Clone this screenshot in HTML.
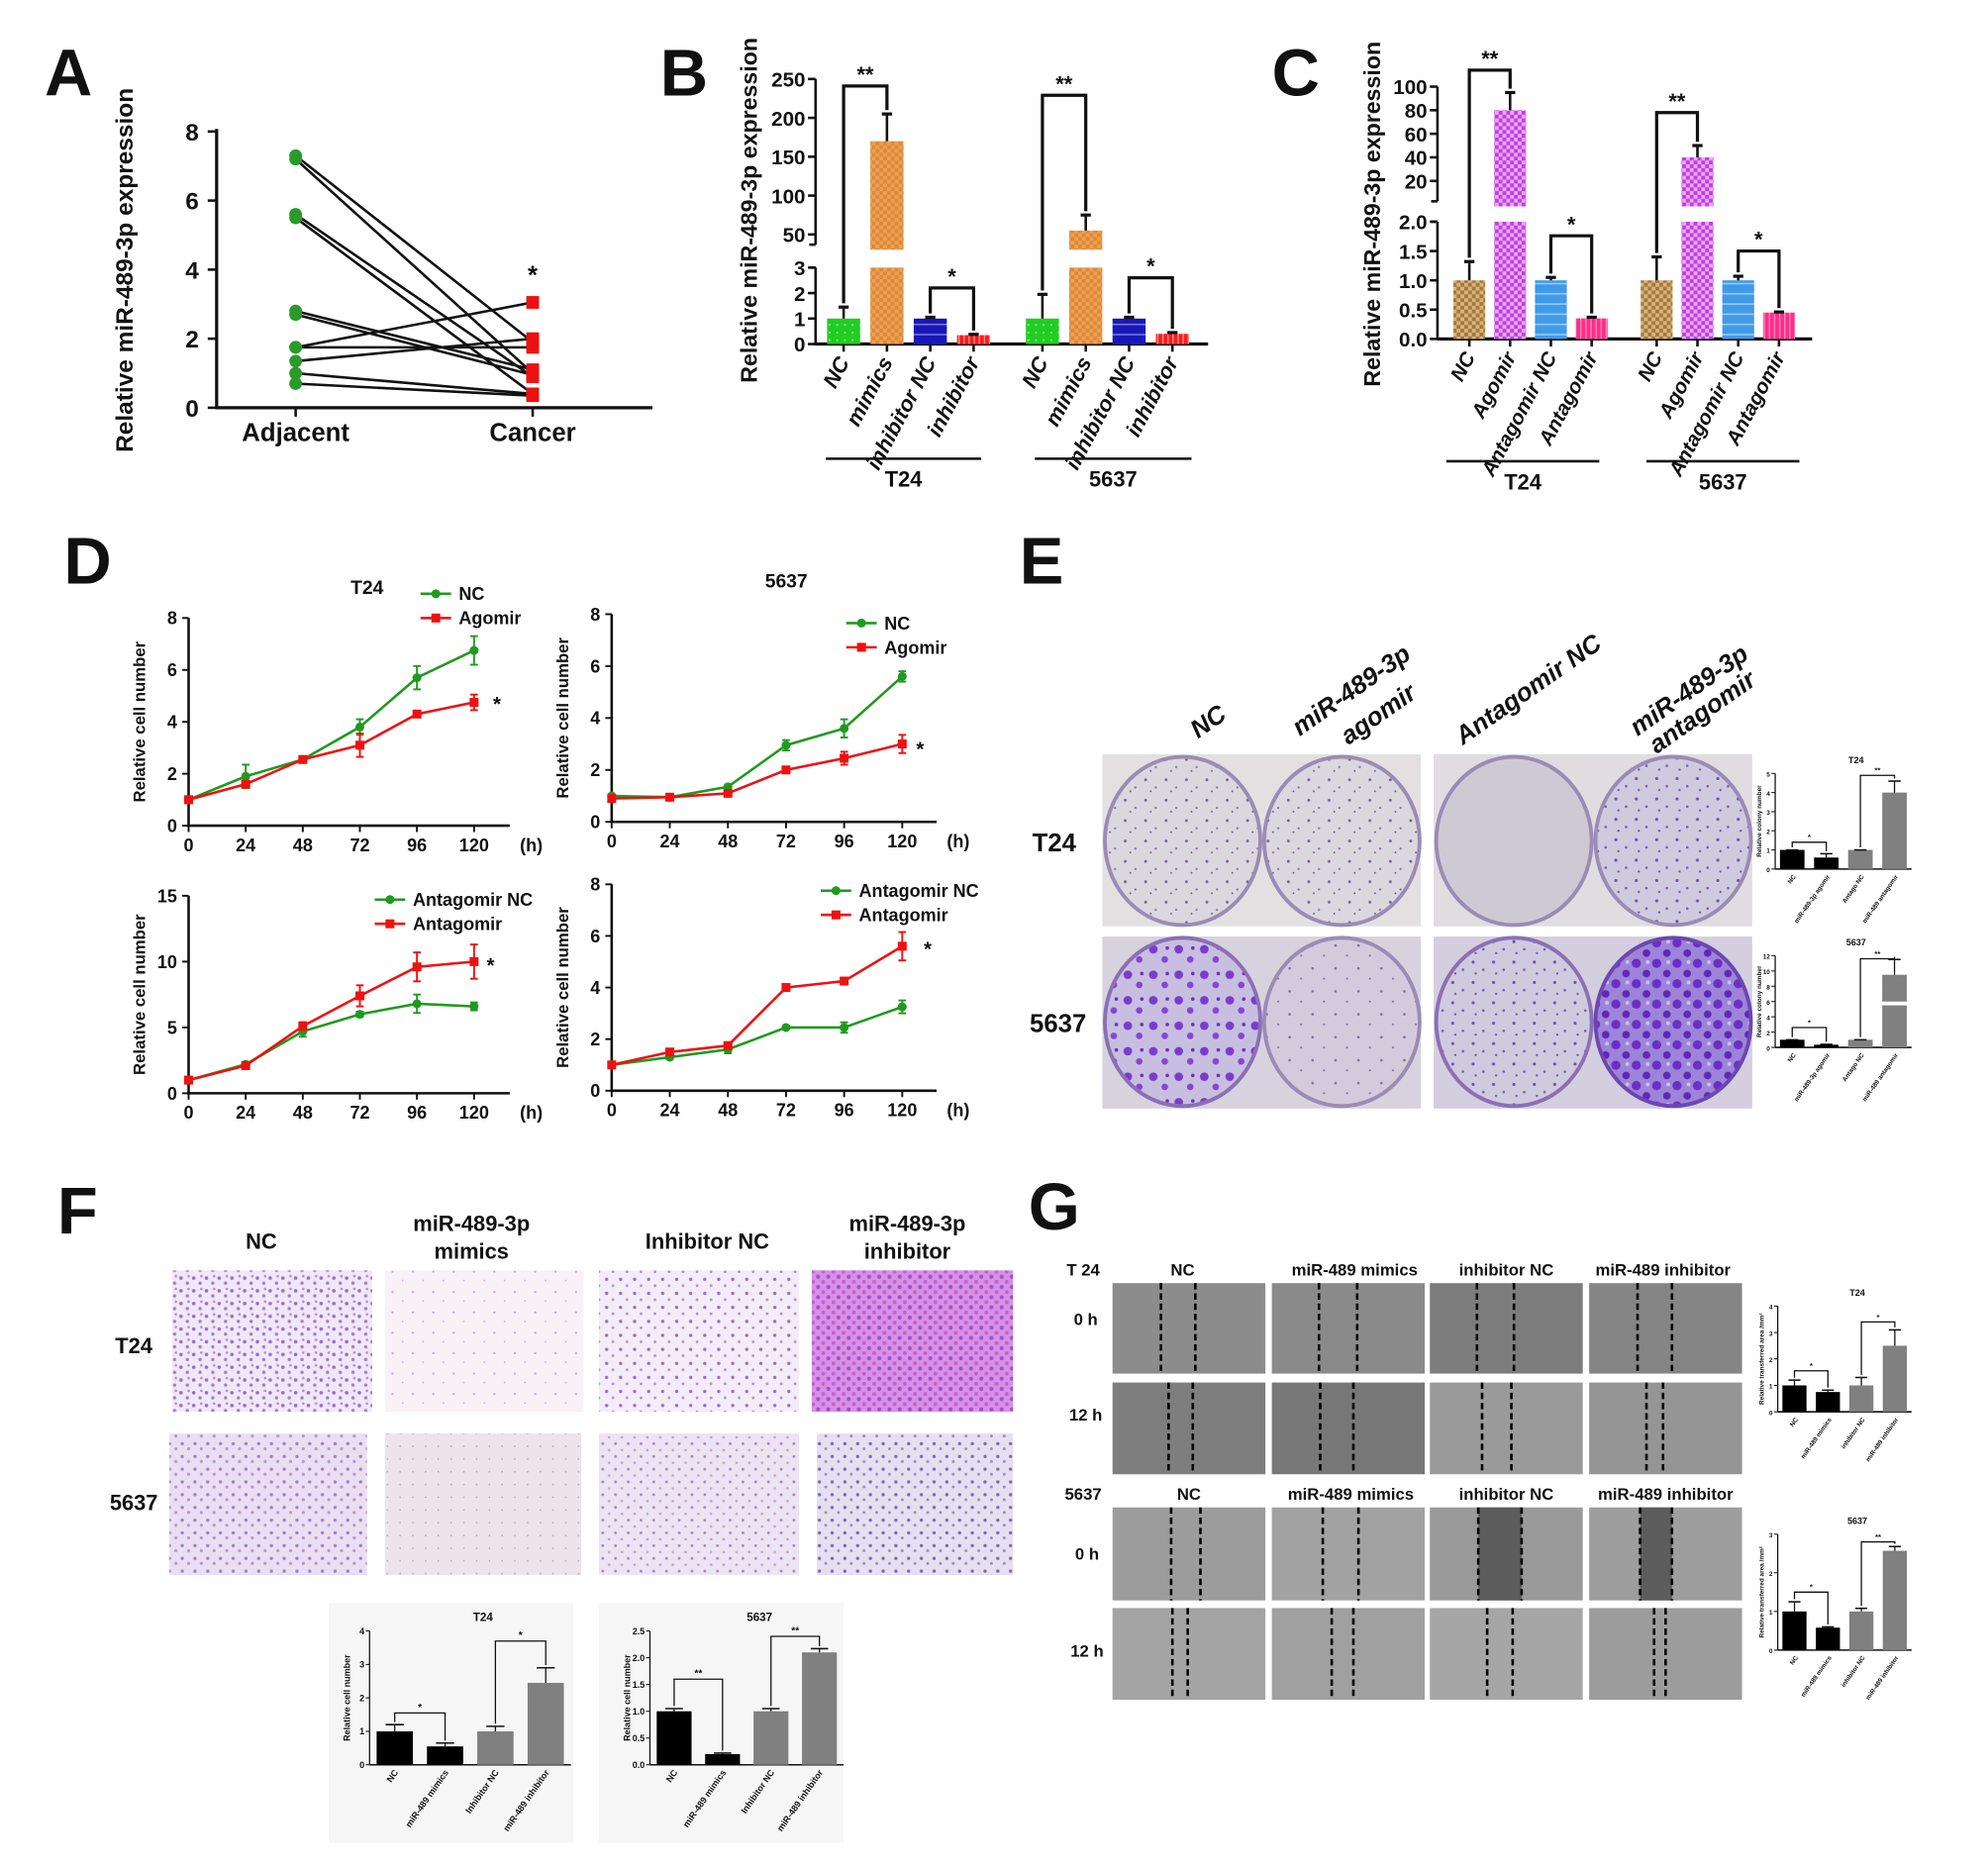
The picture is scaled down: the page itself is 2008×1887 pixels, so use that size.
<!DOCTYPE html>
<html><head><meta charset="utf-8"><style>
html,body{margin:0;padding:0;background:#fff}
svg{display:block}
text{font-family:"Liberation Sans",Arial,sans-serif;font-weight:bold;fill:#111}
</style></head><body>
<svg id="fig" xmlns="http://www.w3.org/2000/svg" width="2008" height="1887" viewBox="0 0 1560 1466" preserveAspectRatio="none">
<defs>
<pattern id="chkO" width="6" height="6" patternUnits="userSpaceOnUse"><rect width="6" height="6" fill="#f0a050"/><rect width="3" height="3" fill="#d98a3a"/><rect x="3" y="3" width="3" height="3" fill="#d98a3a"/></pattern>
<pattern id="chkP" width="6" height="6" patternUnits="userSpaceOnUse"><rect width="6" height="6" fill="#c040e0"/><rect width="3" height="3" fill="#e9a8f5"/><rect x="3" y="3" width="3" height="3" fill="#e9a8f5"/></pattern>
<pattern id="chkB" width="6" height="6" patternUnits="userSpaceOnUse"><rect width="6" height="6" fill="#e0b070"/><rect width="3" height="3" fill="#9c7a4a"/><rect x="3" y="3" width="3" height="3" fill="#9c7a4a"/></pattern>
<pattern id="lnBlue" width="6" height="8" patternUnits="userSpaceOnUse"><rect width="6" height="8" fill="#1818b8"/><rect y="6" width="6" height="1.2" fill="#7a7ae0"/></pattern>
<pattern id="lnLBlue" width="6" height="8" patternUnits="userSpaceOnUse"><rect width="6" height="8" fill="#3f9ae8"/><rect y="6" width="6" height="1.2" fill="#9ccaf2"/></pattern>
<pattern id="lnPink" width="4" height="6" patternUnits="userSpaceOnUse"><rect width="4" height="6" fill="#ff2d8a"/><rect width="1" height="6" fill="#ff8cc0"/></pattern>
<pattern id="lnRed" width="4" height="6" patternUnits="userSpaceOnUse"><rect width="4" height="6" fill="#ff1a1a"/><rect width="1" height="6" fill="#ff9a9a"/></pattern>
<pattern id="dotG" width="6" height="6" patternUnits="userSpaceOnUse"><rect width="6" height="6" fill="#22cc22"/><circle cx="3" cy="3" r="0.8" fill="#88ee88"/></pattern>
<pattern id="colS" width="16" height="16" patternUnits="userSpaceOnUse"><rect width="16" height="16" fill="#dcd7de"/><circle cx="3" cy="4" r="1.1" fill="#7a5f96"/><circle cx="11" cy="10" r="0.9" fill="#8a70a4"/><circle cx="7" cy="13" r="0.7" fill="#6d5488"/></pattern>
<pattern id="colL" width="18" height="18" patternUnits="userSpaceOnUse"><rect width="18" height="18" fill="#d3cbdc"/><circle cx="4" cy="4" r="1" fill="#8070a0"/><circle cx="13" cy="12" r="0.8" fill="#8070a0"/></pattern>
<pattern id="colH" width="20" height="20" patternUnits="userSpaceOnUse"><rect width="20" height="20" fill="#c8bfe0"/><circle cx="5" cy="5" r="3.4" fill="#7a3ccc"/><circle cx="14" cy="13" r="2.6" fill="#8446d6"/><circle cx="16" cy="4" r="1.4" fill="#6a34b8"/></pattern>
<pattern id="colM" width="16" height="16" patternUnits="userSpaceOnUse"><rect width="16" height="16" fill="#d0cade"/><circle cx="4" cy="3" r="1.2" fill="#6e52a6"/><circle cx="12" cy="9" r="1" fill="#7a5cb0"/><circle cx="6" cy="12" r="0.9" fill="#6e52a6"/></pattern>
<pattern id="colX" width="16" height="16" patternUnits="userSpaceOnUse"><rect width="16" height="16" fill="#9e84d8"/><circle cx="4" cy="4" r="3.6" fill="#6a2fc6"/><circle cx="12" cy="12" r="3" fill="#5e28b8"/><circle cx="13" cy="3" r="1.5" fill="#ccc0ec"/></pattern>
<pattern id="fA" width="10" height="10" patternUnits="userSpaceOnUse"><rect width="10" height="10" fill="#f1e8f6"/><circle cx="2" cy="3" r="1.4" fill="#9a6ad0"/><circle cx="7" cy="7" r="1.3" fill="#a37ad6"/><circle cx="8" cy="1.5" r="1" fill="#b08ade"/></pattern>
<pattern id="fB" width="16" height="16" patternUnits="userSpaceOnUse"><rect width="16" height="16" fill="#f8f2f7"/><circle cx="4" cy="6" r="0.9" fill="#c8a0dc"/><circle cx="12" cy="13" r="0.7" fill="#d0aee2"/></pattern>
<pattern id="fC" width="11" height="11" patternUnits="userSpaceOnUse"><rect width="11" height="11" fill="#f4edf7"/><circle cx="3" cy="3" r="1.3" fill="#9a6ad0"/><circle cx="8" cy="8" r="1.1" fill="#b08ade"/></pattern>
<pattern id="fD" width="8" height="8" patternUnits="userSpaceOnUse"><rect width="8" height="8" fill="#d890e4"/><circle cx="2" cy="2" r="1.6" fill="#a050d0"/><circle cx="6" cy="6" r="1.5" fill="#c060d8"/></pattern>
<pattern id="fE" width="10" height="10" patternUnits="userSpaceOnUse"><rect width="10" height="10" fill="#eadff0"/><circle cx="3" cy="3" r="1.3" fill="#a27ad4"/><circle cx="8" cy="7" r="1.2" fill="#b98ee0"/></pattern>
<pattern id="fF" width="10" height="10" patternUnits="userSpaceOnUse"><rect width="10" height="10" fill="#ece4ea"/><circle cx="4" cy="5" r="0.7" fill="#b9a0c8"/></pattern>
<pattern id="fG" width="10" height="10" patternUnits="userSpaceOnUse"><rect width="10" height="10" fill="#ede4f1"/><circle cx="3" cy="3" r="1.1" fill="#a880d8"/><circle cx="8" cy="8" r="1" fill="#c09ce2"/></pattern>
<pattern id="fH" width="10" height="10" patternUnits="userSpaceOnUse"><rect width="10" height="10" fill="#e6e0ee"/><circle cx="3" cy="3" r="1.3" fill="#7c62c8"/><circle cx="8" cy="7" r="1.1" fill="#9a84d8"/></pattern>
</defs>

<!-- panel letters -->
<text x="35" y="75" font-size="52">A</text>
<text x="518" y="75" font-size="52">B</text>
<text x="998" y="75" font-size="52">C</text>
<text x="50" y="458" font-size="52">D</text>
<text x="800" y="458" font-size="52">E</text>
<text x="45" y="968" font-size="52">F</text>
<text x="807" y="965" font-size="52">G</text>

<!-- E photos -->
<g>
<rect x="865" y="592" width="250" height="135" fill="#e4e0e2"/>
<ellipse cx="928" cy="660" rx="61" ry="66" fill="url(#colS)" stroke="#9a8cb4" stroke-width="3"/>
<ellipse cx="1053" cy="660" rx="61" ry="66" fill="url(#colS)" stroke="#9a8cb4" stroke-width="3"/>
<rect x="1125" y="592" width="250" height="135" fill="#e0dce0"/>
<ellipse cx="1188" cy="660" rx="61" ry="66" fill="#cfc9d4" stroke="#9a8cb4" stroke-width="3"/>
<ellipse cx="1313" cy="660" rx="61" ry="66" fill="url(#colM)" stroke="#9a8cb4" stroke-width="3"/>
<rect x="865" y="735" width="250" height="135" fill="#d8d2de"/>
<ellipse cx="928" cy="802" rx="61" ry="66" fill="url(#colH)" stroke="#8a70b4" stroke-width="3"/>
<ellipse cx="1053" cy="802" rx="61" ry="66" fill="url(#colL)" stroke="#9a8cb4" stroke-width="3"/>
<rect x="1125" y="735" width="250" height="135" fill="#d4cede"/>
<ellipse cx="1188" cy="802" rx="61" ry="66" fill="url(#colM)" stroke="#8a70b4" stroke-width="3"/>
<ellipse cx="1313" cy="802" rx="61" ry="66" fill="url(#colX)" stroke="#6a48b0" stroke-width="3"/>
</g>
<g font-size="20" font-style="italic">
<text transform="translate(940,580) rotate(-35)">NC</text>
<text transform="translate(1020,578) rotate(-35)">miR-489-3p</text>
<text transform="translate(1058,585) rotate(-35)">agomir</text>
<text transform="translate(1148,585) rotate(-35)">Antagomir NC</text>
<text transform="translate(1285,578) rotate(-35)">miR-489-3p</text>
<text transform="translate(1300,592) rotate(-35)">antagomir</text>
</g>
<text x="810" y="668" font-size="20">T24</text>
<text x="808" y="810" font-size="20">5637</text>

<!-- F photos -->
<g>
<rect x="135" y="997" width="157" height="111" fill="url(#fA)"/>
<rect x="302" y="997" width="156" height="111" fill="url(#fB)"/>
<rect x="470" y="997" width="157" height="111" fill="url(#fC)"/>
<rect x="637" y="997" width="158" height="111" fill="url(#fD)"/>
<rect x="133" y="1125" width="155" height="111" fill="url(#fE)"/>
<rect x="302" y="1125" width="154" height="111" fill="url(#fF)"/>
<rect x="470" y="1125" width="157" height="111" fill="url(#fG)"/>
<rect x="641" y="1125" width="154" height="111" fill="url(#fH)"/>
</g>
<g font-size="17" text-anchor="middle">
<text x="205" y="980">NC</text>
<text x="370" y="966">miR-489-3p</text>
<text x="370" y="988">mimics</text>
<text x="555" y="980">Inhibitor NC</text>
<text x="712" y="966">miR-489-3p</text>
<text x="712" y="988">inhibitor</text>
<text x="105" y="1062">T24</text>
<text x="105" y="1185">5637</text>
</g>

<!-- G photos -->
<g id="gphotos"></g>
<g font-size="13" text-anchor="middle">
<text x="850" y="1001">T 24</text>
<text x="928" y="1001">NC</text>
<text x="1063" y="1001">miR-489 mimics</text>
<text x="1182" y="1001">inhibitor  NC</text>
<text x="1305" y="1001">miR-489 inhibitor</text>
<text x="852" y="1040">0 h</text>
<text x="852" y="1115">12 h</text>
<text x="850" y="1177">5637</text>
<text x="933" y="1177">NC</text>
<text x="1060" y="1177">miR-489 mimics</text>
<text x="1182" y="1177">inhibitor  NC</text>
<text x="1307" y="1177">miR-489 inhibitor</text>
<text x="853" y="1224">0 h</text>
<text x="853" y="1300">12 h</text>
</g>

<g id="charts"></g>
</svg>
<script>
// ---------- data ----------
const aAdjacent=[7.3,7.2,5.6,5.5,2.8,2.7,1.75,1.75,1.35,1.0,0.7];
const aCancer=[1.9,1.0,0.9,0.4,1.1,0.95,3.05,1.75,2.0,0.4,0.35];
const aTicks=[0,2,4,6,8];

const bCats=['NC','mimics','inhibitor NC','inhibitor','NC','mimics','inhibitor NC','inhibitor'];
const bVals=[1.0,170,1.0,0.35,1.0,55,1.0,0.4];
const bErr=[1.45,205,1.05,0.38,1.95,75,1.05,0.45];
const bLowTicks=[0,1,2,3];
const bHighTicks=[50,100,150,200,250];
const bBrackets=[[0,1,241,'**'],[2,3,2.2,'*'],[4,5,229,'**'],[6,7,2.6,'*']];

const cCats=['NC','Agomir','Antagomir NC','Antagomir','NC','Agomir','Antagomir NC','Antagomir'];
const cVals=[1.0,80,1.0,0.35,1.0,40,1.0,0.45];
const cErr=[1.32,95,1.05,0.37,1.4,50,1.07,0.46];
const cLowTicks=[0.0,0.5,1.0,1.5,2.0];
const cHighTicks=[20,40,60,80,100];
const cBrackets=[[0,1,114,'**'],[2,3,1.76,'*'],[4,5,78,'**'],[6,7,1.5,'*']];

const dHours=[0,24,48,72,96,120];
const d1NC=[1,1.9,2.55,3.8,5.7,6.75];const d1NCe=[0.05,0.45,0.08,0.3,0.45,0.55];
const d1Ag=[1,1.6,2.55,3.1,4.3,4.75];const d1Age=[0.05,0.12,0.05,0.45,0.1,0.3];
const d2NC=[1,0.95,1.35,2.95,3.6,5.6];const d2NCe=[0.05,0.05,0.08,0.2,0.35,0.2];
const d2Ag=[0.9,0.95,1.1,2.0,2.45,3.0];const d2Age=[0.05,0.05,0.05,0.1,0.25,0.35];
const d3NC=[1,2.2,4.7,6.0,6.8,6.6];const d3NCe=[0.05,0.1,0.4,0.2,0.7,0.3];
const d3An=[1,2.1,5.1,7.4,9.6,10.0];const d3Ane=[0.05,0.1,0.3,0.8,1.1,1.3];
const d4NC=[1,1.3,1.6,2.45,2.45,3.25];const d4NCe=[0.05,0.08,0.15,0.05,0.2,0.25];
const d4An=[1,1.5,1.75,4.0,4.25,5.6];const d4Ane=[0.05,0.08,0.08,0.12,0.1,0.55];

const eT24Vals=[1.0,0.6,1.0,4.0];const eT24Err=[1.0,0.8,1.0,4.6];
const e5637Vals=[1.0,0.35,1.0,9.5];const e5637Err=[1.0,0.4,1.0,11.5];
const eCats=['NC','miR-489-3p agomir','Antago NC','miR-489 antagomir'];
const fT24Vals=[1.0,0.55,1.0,2.45];const fT24Err=[1.2,0.65,1.15,2.9];
const f5637Vals=[1.0,0.2,1.0,2.1];const f5637Err=[1.05,0.22,1.05,2.17];
const fCats=['NC','miR-489 mimics','Inhibitor NC','miR-489 inhibitor'];
const gT24Vals=[1.0,0.75,1.0,2.5];const gT24Err=[1.2,0.82,1.3,3.1];
const g5637Vals=[1.0,0.58,1.0,2.57];const g5637Err=[1.25,0.6,1.08,2.68];
const gCats=['NC','miR-489 mimics','inhibitor NC','miR-489 inhibitor'];

// ---------- helpers ----------
const NS='http://www.w3.org/2000/svg';
const root=document.getElementById('charts');
function mk(tag,attrs,parent){const e=document.createElementNS(NS,tag);for(const k in attrs)e.setAttribute(k,attrs[k]);(parent||root).appendChild(e);return e;}
function txt(s,attrs,parent){const e=mk('text',attrs,parent);e.textContent=s;return e;}
function line(x1,y1,x2,y2,w,parent,col){return mk('line',{x1:x1,y1:y1,x2:x2,y2:y2,stroke:col||'#111','stroke-width':w||2},parent);}

// ---------- Panel A ----------
(function(){
  const g=mk('g',{});
  
  
  const yA=v=>320-v*27.1, xAdj=232, xCan=418;
  line(170,yA(8)-2,170,321,2.5,g);line(169,320,512,320,2.5,g);
  aTicks.forEach(t=>{line(163,yA(t),170,yA(t),2,g);
    const tl=txt(String(t),{x:156,y:yA(t)+7,'font-size':19,'text-anchor':'end'},g);
    
    });
  line(xAdj,320,xAdj,327,2,g);line(xCan,320,xCan,327,2,g);
  const t1=txt('Adjacent',{x:xAdj,y:346,'font-size':20,'text-anchor':'middle'},g);
  
  
  const t2=txt('Cancer',{x:xCan,y:346,'font-size':20,'text-anchor':'middle'},g);
  
  
  const yt=txt('Relative miR-489-3p expression',{transform:'translate(104,212) rotate(-90)','font-size':19,'text-anchor':'middle'},g);
  
  
  aAdjacent.forEach((v,i)=>{const l=line(xAdj,yA(v),xCan,yA(aCancer[i]),2,g);
    
    });
  aAdjacent.forEach(v=>{const c=mk('circle',{cx:xAdj,cy:yA(v),r:5,fill:'#2a9a2a'},g);
    
    });
  aCancer.forEach(v=>{const r=mk('rect',{x:xCan-5,y:yA(v)-5,width:10,height:10,fill:'#ee1111'},g);
    
    });
  const s=txt('*',{x:xCan,y:yA(3.6),'font-size':20,'text-anchor':'middle'},g);
  
  
})();

// ---------- broken-axis bar chart (B and C) ----------
function brokenBar(cfg,cats,vals,errs,lowT,highT,brackets){
  const g=mk('g',{});
  
  
  const y=cfg.y, xs=i=>cfg.x0+(i%4)*cfg.dx+Math.floor(i/4)*cfg.gdx;
  // axes
  line(cfg.ax,y(0)+1,cfg.ax,y(cfg.lowMax),2,g);
  line(cfg.ax,cfg.upBottom,cfg.ax,y(highT[highT.length-1]),2,g);
  line(cfg.ax-5,y(cfg.lowMax),cfg.ax,y(cfg.lowMax),2,g);
  line(cfg.ax-5,cfg.upBottom,cfg.ax,cfg.upBottom,2,g);
  line(cfg.ax,y(0),cfg.axEnd,y(0),2.5,g);
  lowT.concat(highT).forEach(t=>{line(cfg.ax-6,y(t),cfg.ax,y(t),2,g);
    const tl=txt(cfg.fmt(t),{x:cfg.ax-8,y:y(t)+6,'font-size':16,'text-anchor':'end',transform:'scale(1,1)'},g);
    
    });
  vals.forEach((v,i)=>{
    const x=xs(i), w=cfg.bw;
    const lowTop=y(Math.min(v,cfg.lowMax));
    const r=mk('rect',{x:x-w/2,y:lowTop,width:w,height:y(0)-lowTop,fill:cfg.fills[i%4]},g);
    
    
    if(v>cfg.lowMax){const r2=mk('rect',{x:x-w/2,y:y(v),width:w,height:cfg.upBottom+4-y(v),fill:cfg.fills[i%4]},g);
      
      }
    const e=errs[i];
    line(x,y(v),x,y(e),2,g);line(x-4,y(e),x+4,y(e),2.5,g);
    line(x,y(0),x,y(0)+6,2,g);
    const lab=txt(cats[i],{transform:'translate('+(x+5)+','+(y(0)+14)+') rotate(-62)','font-size':cfg.fs,'font-style':'italic','text-anchor':'end'},g);
    
    
  });
  brackets.forEach(b=>{const xa=xs(b[0]),xb=xs(b[1]),yb=y(b[2]);
    const p=mk('path',{d:'M'+xa+','+(y(errs[b[0]])-3)+' V'+yb+' H'+xb+' V'+(y(errs[b[1]])-3),fill:'none',stroke:'#111','stroke-width':2.5},g);
    
    
    const s=txt(b[3],{x:(xa+xb)/2,y:yb-3,'font-size':17,'text-anchor':'middle'},g);
    
    });
  cfg.groups.forEach(gr=>{line(gr[0],cfg.gy,gr[1],cfg.gy,2,g);
    const t=txt(gr[2],{x:(gr[0]+gr[1])/2,y:cfg.gy+22,'font-size':17,'text-anchor':'middle'},g);
    
    });
  const yt=txt('Relative miR-489-3p expression',{transform:'translate('+cfg.ytx+','+cfg.yty+') rotate(-90)','font-size':18,'text-anchor':'middle','font-family':cfg.serif?'Liberation Serif, serif':'Liberation Sans, sans-serif'},g);
  
  
}
brokenBar({name:'panel-b-chart',x0:662,dx:34,gdx:156,bw:26,ax:640,axEnd:948,lowMax:3,upBottom:192,
  y:v=>v<=3.5?270-v*20:184-(v-50)*0.61,fmt:t=>String(t),fs:17,
  fills:['url(#dotG)','url(#chkO)','url(#lnBlue)','url(#lnRed)'],
  groups:[[648,770,'T24'],[812,935,'5637']],gy:360,ytx:594,yty:165},
  bCats,bVals,bErr,bLowTicks,bHighTicks,bBrackets);
brokenBar({name:'panel-c-chart',x0:1153,dx:32,gdx:147,bw:25,ax:1128,axEnd:1422,lowMax:2,upBottom:158,
  y:v=>v<=2.5?266-v*46:142-(v-20)*0.925,fmt:t=>t<=2?t.toFixed(1):String(t),fs:16,
  fills:['url(#chkB)','url(#chkP)','url(#lnLBlue)','url(#lnPink)'],
  groups:[[1135,1255,'T24'],[1292,1412,'5637']],gy:362,ytx:1083,yty:168,serif:true},
  cCats,cVals,cErr,cLowTicks,cHighTicks,cBrackets);

// ---------- line charts (D) ----------
function lineChart(cfg,sA,eA,sB,eB,names){
  const g=mk('g',{});
  
  
  const X=h=>cfg.x0+h*(cfg.x120-cfg.x0)/120, Y=v=>cfg.yb-v*(cfg.yb-cfg.yt)/cfg.ymax;
  line(cfg.x0,cfg.yt,cfg.x0,cfg.yb+1,2,g);line(cfg.x0-1,cfg.yb,cfg.xEnd,cfg.yb,2,g);
  cfg.ticks.forEach(t=>{line(cfg.x0-5,Y(t),cfg.x0,Y(t),1.5,g);
    const tl=txt(String(t),{x:cfg.x0-9,y:Y(t)+5,'font-size':14,'text-anchor':'end'},g);
    
    });
  dHours.forEach(h=>{line(X(h),cfg.yb,X(h),cfg.yb+5,1.5,g);
    const tl=txt(String(h),{x:X(h),y:cfg.yb+20,'font-size':14,'text-anchor':'middle'},g);
    
    });
  const hl=txt('(h)',{x:cfg.xEnd+8,y:cfg.yb+20,'font-size':14},g);
  
  
  const yt=txt('Relative cell number',{transform:'translate('+(cfg.x0-34)+','+((cfg.yt+cfg.yb)/2)+') rotate(-90)','font-size':13,'text-anchor':'middle'},g);
  
  
  if(cfg.title){const t=txt(cfg.title,{x:cfg.tx,y:cfg.ty,'font-size':15,'text-anchor':'middle'},g);
    
    }
  const series=[[sA,eA,'#1f9a1f','circle'],[sB,eB,'#ee1111','square']];
  series.forEach((s,k)=>{
    const pts=s[0].map((v,i)=>X(dHours[i])+','+Y(v)).join(' ');
    const pl=mk('polyline',{points:pts,fill:'none',stroke:s[2],'stroke-width':2},g);
    
    
    s[0].forEach((v,i)=>{const x=X(dHours[i]),e=s[1][i];
      line(x,Y(v-e),x,Y(v+e),1.5,g,s[2]);line(x-3,Y(v+e),x+3,Y(v+e),1.5,g,s[2]);line(x-3,Y(v-e),x+3,Y(v-e),1.5,g,s[2]);
      const m=s[3]==='circle'?mk('circle',{cx:x,cy:Y(v),r:3.5,fill:s[2]},g):mk('rect',{x:x-3.5,y:Y(v)-3.5,width:7,height:7,fill:s[2]},g);
      
      });
    const ly=cfg.ly+k*19;
    line(cfg.lx,ly,cfg.lx+24,ly,2,g,s[2]);
    const lm=s[3]==='circle'?mk('circle',{cx:cfg.lx+12,cy:ly,r:3.5,fill:s[2]},g):mk('rect',{x:cfg.lx+8.5,y:ly-3.5,width:7,height:7,fill:s[2]},g);
    
    
    const lt=txt(names[k],{x:cfg.lx+30,y:ly+5,'font-size':14},g);
    
    
  });
  const st=txt('*',{x:cfg.sx,y:cfg.sy,'font-size':16,'text-anchor':'middle'},g);
  
  
}
lineChart({name:'d-t24-agomir',x0:148,x120:372,xEnd:400,yb:648,yt:485,ymax:8,ticks:[0,2,4,6,8],title:'T24',tx:288,ty:466,lx:330,ly:466,sx:390,sy:558},d1NC,d1NCe,d1Ag,d1Age,['NC','Agomir']);
lineChart({name:'d-5637-agomir',x0:480,x120:708,xEnd:735,yb:645,yt:482,ymax:8,ticks:[0,2,4,6,8],title:'5637',tx:617,ty:461,lx:664,ly:489,sx:722,sy:593},d2NC,d2NCe,d2Ag,d2Age,['NC','Agomir']);
lineChart({name:'d-t24-antagomir',x0:148,x120:372,xEnd:400,yb:858,yt:703,ymax:15,ticks:[0,5,10,15],lx:294,ly:706,sx:385,sy:763},d3NC,d3NCe,d3An,d3Ane,['Antagomir NC','Antagomir']);
lineChart({name:'d-5637-antagomir',x0:480,x120:708,xEnd:735,yb:856,yt:694,ymax:8,ticks:[0,2,4,6,8],lx:644,ly:699,sx:728,sy:750},d4NC,d4NCe,d4An,d4Ane,['Antagomir NC','Antagomir']);

// ---------- mini bar charts ----------
function miniBar(cfg,vals,errs,cats){
  const g=mk('g',{});
  
  
  if(cfg.bg){const b=mk('rect',{x:cfg.bg[0],y:cfg.bg[1],width:cfg.bg[2],height:cfg.bg[3],fill:'#f6f6f6'},g);
    
    }
  const Y=v=>cfg.yb-v*(cfg.yb-cfg.yt)/cfg.ymax;
  const step=(cfg.xr-cfg.x0)/4;
  line(cfg.x0,cfg.yt,cfg.x0,cfg.yb,1,g);line(cfg.x0,cfg.yb,cfg.xr,cfg.yb,1.2,g);
  cfg.ticks.forEach(t=>{line(cfg.x0-3,Y(t),cfg.x0,Y(t),0.8,g);
    const tl=txt(cfg.fmt?cfg.fmt(t):String(t),{x:cfg.x0-4,y:Y(t)+2.5,'font-size':cfg.fs,'text-anchor':'end'},g);
    
    });
  const bw=step*0.72;
  vals.forEach((v,i)=>{const cx=cfg.x0+step*(i+0.5);
    const r=mk('rect',{x:cx-bw/2,y:Y(v),width:bw,height:cfg.yb-Y(v),fill:i<2?'#000':'#808080'},g);
    
    
    line(cx,Y(v),cx,Y(errs[i]),1,g);line(cx-bw/4,Y(errs[i]),cx+bw/4,Y(errs[i]),1.2,g);
    const lt=txt(cats[i],{transform:'translate('+(cx+3)+','+(cfg.yb+6)+') rotate(-55)','font-size':cfg.fs,'text-anchor':'end'},g);
    
    });
  if(cfg.breakAt!==undefined){const cx=cfg.x0+step*3.5;
    const br=mk('rect',{x:cx-bw/2-1,y:Y(cfg.breakAt),width:bw+2,height:3,fill:'#fff'},g);
    
    }
  [[0,1,cfg.br1,cfg.s1],[2,3,cfg.br2,cfg.s2]].forEach(b=>{
    const xa=cfg.x0+step*(b[0]+0.5),xb=cfg.x0+step*(b[1]+0.5),yb=Y(b[2]);
    const p=mk('path',{d:'M'+xa+','+(Y(errs[b[0]])-2)+' V'+yb+' H'+xb+' V'+(Y(errs[b[1]])-2),fill:'none',stroke:'#111','stroke-width':1},g);
    
    
    const s=txt(b[3],{x:(xa+xb)/2,y:yb-2,'font-size':cfg.fs+1,'text-anchor':'middle'},g);
    
    });
  const t=txt(cfg.title,{x:(cfg.x0+cfg.xr)/2+10,y:cfg.yt-8,'font-size':cfg.fs+2,'text-anchor':'middle'},g);
  
  
  const yt=txt(cfg.ytitle,{transform:'translate('+(cfg.x0-cfg.fs*2.2)+','+((cfg.yt+cfg.yb)/2)+') rotate(-90)','font-size':cfg.fs,'text-anchor':'middle'},g);
  
  
}
miniBar({name:'e-t24-colony-chart',x0:1393,xr:1500,yt:607,yb:682,ymax:5,ticks:[0,1,2,3,4,5],fs:5,br1:1.4,br2:4.9,s1:'*',s2:'**',title:'T24',ytitle:'Relative colony number'},eT24Vals,eT24Err,eCats);
miniBar({name:'e-5637-colony-chart',x0:1393,xr:1500,yt:750,yb:822,ymax:12,ticks:[0,2,4,6,8,10,12],fs:5,br1:2.6,br2:11.6,s1:'*',s2:'**',breakAt:6,title:'5637',ytitle:'Relative colony number'},e5637Vals,e5637Err,eCats);
miniBar({name:'f-t24-chart',bg:[258,1258,192,188],x0:290,xr:448,yt:1280,yb:1385,ymax:4,ticks:[0,1,2,3,4],fs:7,br1:1.55,br2:3.7,s1:'*',s2:'*',title:'T24',ytitle:'Relative cell number'},fT24Vals,fT24Err,fCats);
miniBar({name:'f-5637-chart',bg:[470,1258,192,188],x0:510,xr:662,yt:1280,yb:1385,ymax:2.5,ticks:[0,0.5,1,1.5,2,2.5],fmt:t=>t.toFixed(1),fs:7,br1:1.6,br2:2.4,s1:'**',s2:'**',title:'5637',ytitle:'Relative cell number'},f5637Vals,f5637Err,fCats);
miniBar({name:'g-t24-chart',x0:1395,xr:1500,yt:1025,yb:1108,ymax:4,ticks:[0,1,2,3,4],fs:5,br1:1.55,br2:3.4,s1:'*',s2:'*',title:'T24',ytitle:'Relative transferred area /mm²'},gT24Vals,gT24Err,gCats);
miniBar({name:'g-5637-chart',x0:1395,xr:1500,yt:1204,yb:1295,ymax:3,ticks:[0,1,2,3],fs:5,br1:1.5,br2:2.8,s1:'*',s2:'**',title:'5637',ytitle:'Relative transferred area /mm²'},g5637Vals,g5637Err,gCats);

// ---------- G wound photos ----------
(function(){
  const gp=document.getElementById('gphotos');
  const cols=[873,998,1122,1247], w=120;
  const rows=[[1007,71,['#8c8c8c','#8a8a8a','#7d7d7d','#858585'],[[911,938],[1035,1065],[1159,1188],[1285,1312]]],
              [1085,72,['#7e7e7e','#787878','#9a9a9a','#959595'],[[917,936],[1036,1062],[1163,1186],[1292,1305]]],
              [1183,73,['#9c9c9c','#a2a2a2','#9a9a9a','#9e9e9e'],[[919,942],[1038,1066],[1160,1194],[1287,1312]]],
              [1262,72,['#a4a4a4','#a0a0a0','#a6a6a6','#9c9c9c'],[[920,932],[1045,1062],[1167,1187],[1298,1307]]]];
  rows.forEach((r,ri)=>{cols.forEach((x,ci)=>{
    const rc=mk('rect',{x:x,y:r[0],width:w,height:r[1],fill:r[2][ci]},gp);
    
    
    const d=r[3][ci];
    if(ri===2&&ci>=2){const band=mk('rect',{x:d[0],y:r[0],width:d[1]-d[0],height:r[1],fill:'#5c5c5c'},gp);
      
      }
    d.forEach(xx=>{const l=mk('line',{x1:xx,y1:r[0],x2:xx,y2:r[0]+r[1],stroke:'#000','stroke-width':2,'stroke-dasharray':'5,3'},gp);
      
      });
  });});
})();
</script>
</body></html>
